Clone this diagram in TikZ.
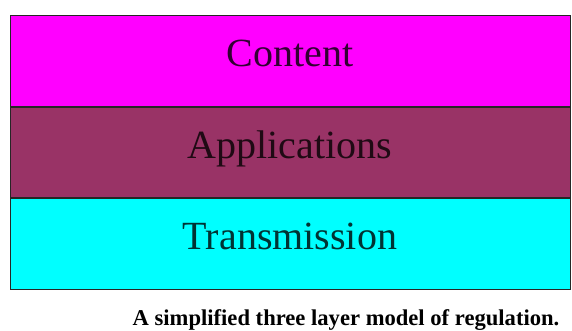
\documentclass[tikz,border=0pt]{standalone}
\usepackage{fontspec}
\setmainfont{Liberation Serif}
\usetikzlibrary{positioning}
\definecolor{layermagenta}{HTML}{FF00FF}
\definecolor{layermaroon}{HTML}{993366}
\definecolor{layercyan}{HTML}{00FFFF}
\begin{document}
\begin{tikzpicture}
        [x=1pt,y=1pt,node distance=0pt,
        every node/.style={inner sep=0pt,align=center},
        layer-box/.style={rectangle,draw=black!85,line width=0.9pt,minimum width=560pt,minimum height=90.5pt,
          text height=27pt,text depth=15pt,font=\fontsize{40}{44}\selectfont},
        caption-text/.style={font=\fontsize{22.6}{26}\selectfont\bfseries,anchor=base}
        ]
        \useasboundingbox (0,0) rectangle (572,331);
        \node[layer-box,fill=layermagenta,text=black!80!layermagenta] (layer-1) at (290,270) {Content};
        \node[layer-box,fill=layermaroon,text=black!80!layermaroon,below=of layer-1] (layer-2) {Applications};
        \node[layer-box,fill=layercyan,text=black!80!layercyan,below=of layer-2] (layer-3) {Transmission};
        \node[caption-text] (caption) at (346,5) {A simplified three layer model of regulation.};
    \end{tikzpicture}
\end{document}
